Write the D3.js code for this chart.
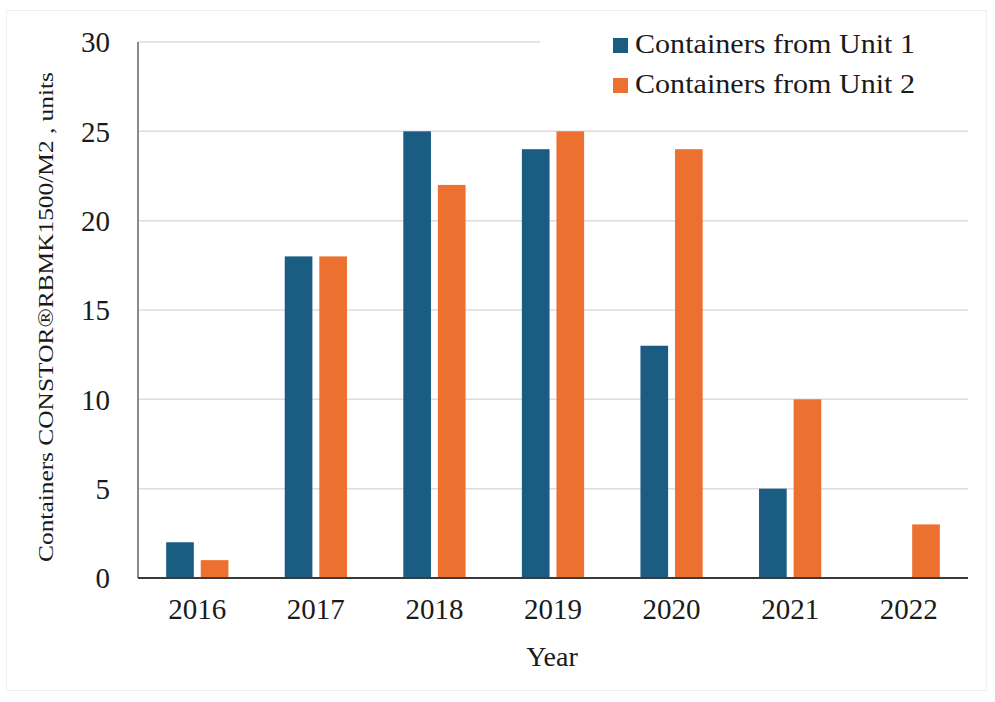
<!DOCTYPE html>
<html>
<head>
<meta charset="utf-8">
<script src="https://cdn.jsdelivr.net/npm/d3@7/dist/d3.min.js"></script>
<style>
html,body{margin:0;padding:0;background:#fff;}
svg{display:block;}
text{font-family:"Liberation Serif","Times New Roman",serif;fill:#1a1a1a;}
</style>
</head>
<body>
<svg id="chart" width="995" height="702"></svg>
<script>
const years = ["2016","2017","2018","2019","2020","2021","2022"];
const seriesNames = ["Containers from Unit 1","Containers from Unit 2"];
const unit1 = [2, 18, 25, 24, 13, 5, 0];
const unit2 = [1, 18, 22, 25, 24, 10, 3];
const yTicks = [0, 5, 10, 15, 20, 25, 30];
const colors = ["#1a5c82", "#ec7131"];

const svg = d3.select("#chart");
const W = 995, H = 702;
const m = {left: 138, right: 27, top: 42, bottom: 124};
const iw = W - m.left - m.right, ih = H - m.top - m.bottom;

// faint outer frame
svg.append("rect").attr("x", 6.5).attr("y", 10.5).attr("width", 980).attr("height", 680)
  .attr("fill", "#fff").attr("stroke", "#f0f0f0");

const g = svg.append("g").attr("transform", `translate(${m.left},${m.top})`);

const x0 = d3.scaleBand().domain(years).range([0, iw]).paddingInner(0.475).paddingOuter(0.2375);
const x1 = d3.scaleBand().domain([0, 1]).range([0, x0.bandwidth()]).paddingInner(0.2);
const y = d3.scaleLinear().domain([0, 30]).range([ih, 0]);

// gridlines
g.append("g").selectAll("line").data(yTicks.filter(t => t > 0)).join("line")
  .attr("x1", 0).attr("x2", iw)
  .attr("y1", d => y(d)).attr("y2", d => y(d))
  .attr("stroke", "#dcdcdc").attr("stroke-width", 1.5);

// bars
const data = years.map((yr, i) => ({yr, vals: [unit1[i], unit2[i]]}));
const grp = g.append("g").selectAll("g").data(data).join("g")
  .attr("transform", d => `translate(${x0(d.yr)},0)`);
grp.selectAll("rect").data(d => d.vals.map((v, k) => ({v, k}))).join("rect")
  .attr("x", d => x1(d.k)).attr("width", x1.bandwidth())
  .attr("y", d => y(d.v)).attr("height", d => ih - y(d.v))
  .attr("fill", d => colors[d.k]);

// y axis line
g.append("line").attr("x1", 0).attr("x2", 0).attr("y1", 0).attr("y2", ih)
  .attr("stroke", "#8a8a8a").attr("stroke-width", 2);
// x axis line
g.append("line").attr("x1", 0).attr("x2", iw).attr("y1", ih).attr("y2", ih)
  .attr("stroke", "#3a3a3a").attr("stroke-width", 2);

// y tick labels
const yAxis = d3.axisLeft(y).tickValues(yTicks).tickSize(0).tickPadding(28);
const ya = g.append("g").call(yAxis);
ya.select(".domain").remove();
ya.selectAll("text").style("font-size", "29px").style("font-family", "Liberation Serif, serif").attr("fill", "#1a1a1a").attr("dy", "0.34em");

// x tick labels
const xAxis = d3.axisBottom(x0).tickSize(0).tickPadding(20);
const xa = g.append("g").attr("transform", `translate(0,${ih})`).call(xAxis);
xa.select(".domain").remove();
xa.selectAll("text").style("font-size", "29px").style("font-family", "Liberation Serif, serif").attr("fill", "#1a1a1a").attr("dy", "0.71em");

// axis titles
svg.append("text").attr("x", m.left + iw / 2 - 1).attr("y", 666)
  .attr("text-anchor", "middle").style("font-size", "28px").text("Year");
svg.append("text").attr("transform", `translate(53,317) rotate(-90)`)
  .attr("text-anchor", "middle").style("font-size", "22px")
  .attr("textLength", 490).attr("lengthAdjust", "spacingAndGlyphs")
  .text("Containers CONSTOR®RBMK1500/M2 , units");

// legend
const lg = svg.append("g");
lg.append("rect").attr("x", 540).attr("y", 18).attr("width", 430).attr("height", 92).attr("fill", "#fff");
seriesNames.forEach((name, i) => {
  const yy = 38 + i * 40;
  lg.append("rect").attr("x", 613).attr("y", yy).attr("width", 15).attr("height", 15).attr("fill", colors[i]);
  lg.append("text").attr("x", 635).attr("y", yy + 15).style("font-size", "27px")
    .attr("textLength", 280).attr("lengthAdjust", "spacingAndGlyphs").text(name);
});
</script>
</body>
</html>
